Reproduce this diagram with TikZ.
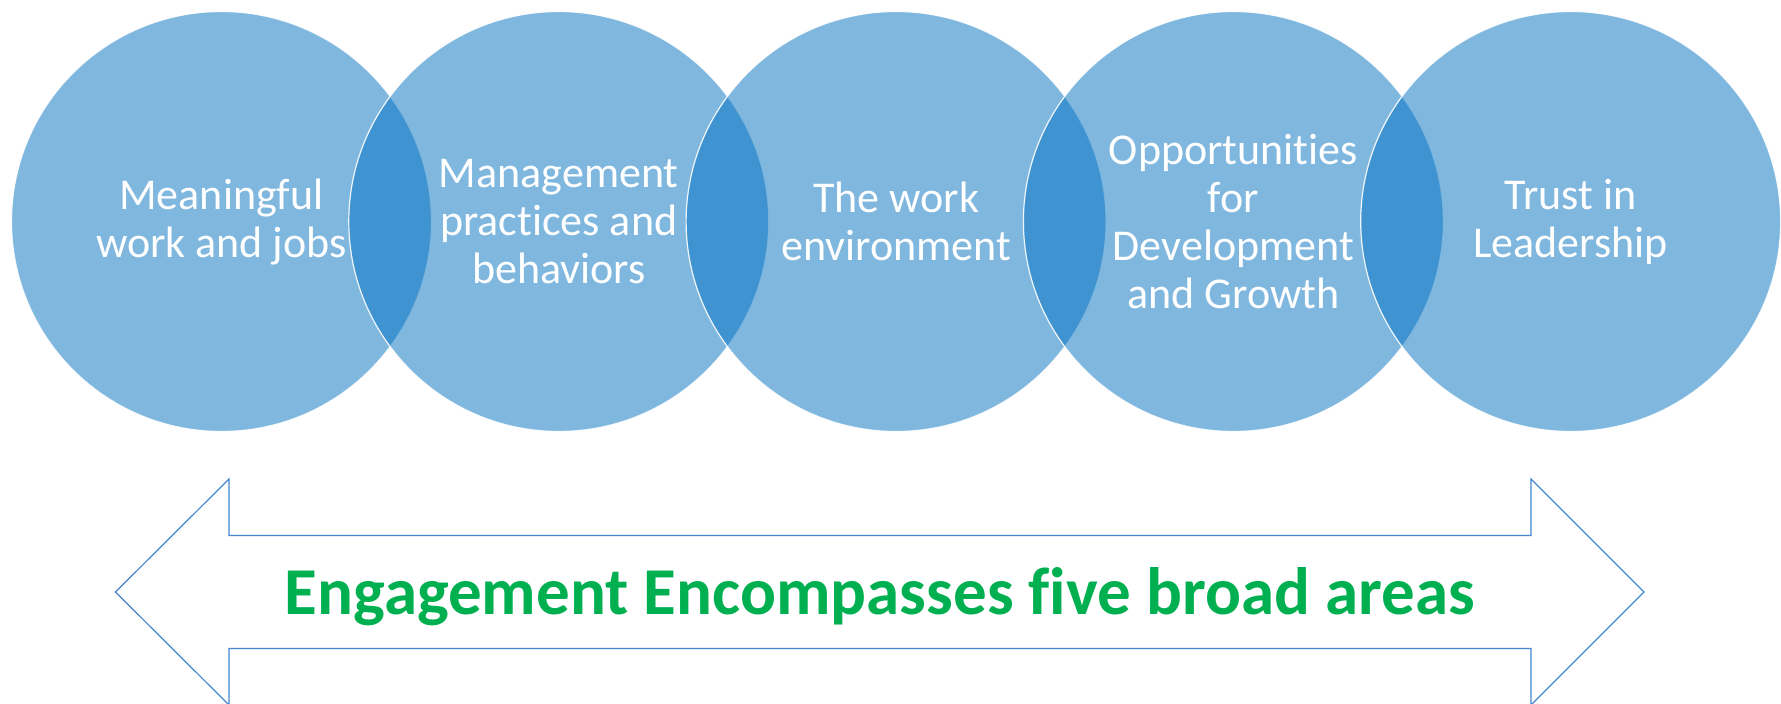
\documentclass[tikz,border=0pt]{standalone}
\usepackage{fontspec}
\setmainfont{Carlito}[Ligatures=NoCommon]
\usepackage{tikz}
\usetikzlibrary{positioning}

\definecolor{vennblue}{RGB}{0,112,192}
\definecolor{arrowblue}{RGB}{66,136,206}
\definecolor{areagreen}{RGB}{0,176,80}

\begin{document}
\begin{tikzpicture}[x=1pt,y=-1pt]
		\tikzstyle{area}=[circle,fill=vennblue,fill opacity=0.5,draw=white,draw opacity=0.9,line width=1.2pt,minimum size=420pt,inner sep=0pt]
		\tikzstyle{areatext}=[text=white,font=\fontsize{44}{48}\selectfont,align=center]
		\tikzstyle{banner}=[text=areagreen,font=\fontsize{67}{80}\selectfont\bfseries,anchor=base]
		
		\useasboundingbox (0,0) rectangle (1781,704);
		
		% the five circles, overlapping
		\foreach \i in {0,...,4}
		\node[area] (c\i) at (221.5+337.3*\i,221.5) {};
		
		\node[areatext] (meaning) at (c0) {Meaningful\\work and jobs};
		\node[areatext] (practice) at (c1) {Management\\practices and\\behaviors};
		\node[areatext] (environment) at (c2) {The work\\environment};
		\node[areatext] (growth) at (c3) {Opportunities\\for\\Development\\and Growth};
		\node[areatext] (trust) at (c4) {Trust in\\Leadership};
		
		% double arrow underneath
		\draw[arrowblue,line width=1.2pt,line join=miter] (115.5,592) -- (229,479) -- (229,535.5) -- (1531,535.5) -- (1531,479) -- (1644,592) -- (1531,705) -- (1531,648.5) -- (229,648.5) -- (229,705) -- cycle;
		\node[banner] (areas) at (880,614.5) {Engagement Encompasses five broad areas};
		
	\end{tikzpicture}
\end{document}
